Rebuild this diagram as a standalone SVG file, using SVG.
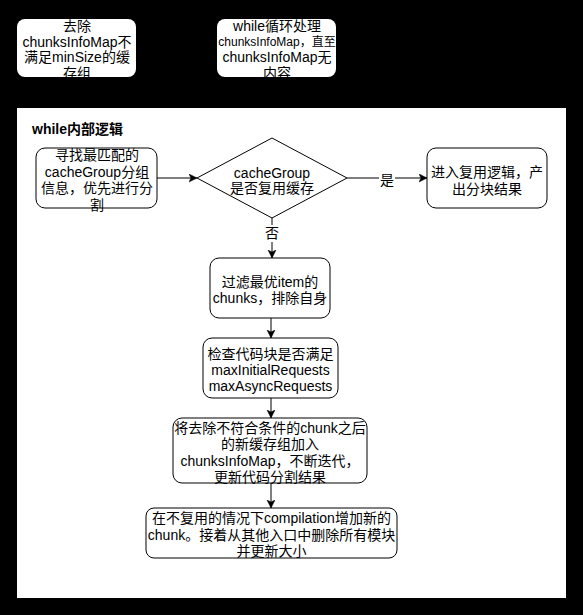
<svg xmlns="http://www.w3.org/2000/svg" width="583" height="615" viewBox="0 0 583 615">
<style>
  text { font-family: "Liberation Sans", "Noto Sans CJK SC", sans-serif; font-size: 14px; fill: #000; text-anchor: middle; }
  .box { fill: #fff; stroke: #000; stroke-width: 1; }
  .top { fill: #fff; stroke: none; }
  .edge { fill: none; stroke: #000; stroke-width: 1; marker-end: url(#arr); }
  .title { font-weight: bold; text-anchor: start; }
  .small { font-size: 12px; }
</style>
<defs>
  <marker id="arr" markerUnits="userSpaceOnUse" markerWidth="10" markerHeight="10" refX="8" refY="4" orient="auto">
    <path d="M0,0 L8,4 L0,8 L2,4 z" fill="#000" stroke="#000" stroke-width="0.5"/>
  </marker>
</defs>
<rect x="0" y="0" width="583" height="615" fill="#000"/>

<g id="top-remove">
  <rect class="top" x="17" y="19" width="119" height="58" rx="8"/>
  <text x="77" y="31">去除</text>
  <text x="77" y="47">chunksInfoMap不</text>
  <text x="77" y="62">满足minSize的缓</text>
  <text x="77" y="78">存组</text>
</g>

<g id="top-while">
  <rect class="top" x="217" y="19" width="119" height="58" rx="8"/>
  <text x="277" y="31">while循环处理</text>
  <text class="small" x="277" y="46">chunksInfoMap，直至</text>
  <text x="277" y="62">chunksInfoMap无</text>
  <text x="277" y="78">内容</text>
</g>

<g id="panel">
  <rect x="17" y="108" width="549" height="490" fill="#fff"/>
  <text class="title" x="32" y="134">while内部逻辑</text>
</g>

<g id="connectors">
  <line class="edge" x1="157" y1="178" x2="197" y2="178"/>
  <line class="edge" x1="347" y1="178" x2="427" y2="178"/>
  <rect x="379" y="170" width="16" height="17" fill="#fff"/>
  <text x="387" y="185">是</text>
  <line class="edge" x1="272" y1="218" x2="272" y2="258"/>
  <rect x="264" y="225" width="16" height="17" fill="#fff"/>
  <text x="272" y="238">否</text>
  <line class="edge" x1="271" y1="318" x2="271" y2="338"/>
  <line class="edge" x1="271" y1="398" x2="271" y2="418"/>
  <line class="edge" x1="271" y1="483" x2="271" y2="508"/>
</g>

<g id="find-best">
  <rect class="box" x="36" y="148" width="121" height="60" rx="9"/>
  <text x="97" y="160">寻找最匹配的</text>
  <text x="97" y="176.5">cacheGroup分组</text>
  <text x="97" y="193">信息，优先进行分</text>
  <text x="97" y="209.5">割</text>
</g>

<g id="decision">
  <polygon class="box" points="272,138 347,178 272,218 197,178"/>
  <text x="272" y="178">cacheGroup</text>
  <text x="272" y="193">是否复用缓存</text>
</g>

<g id="reuse">
  <rect class="box" x="427" y="148" width="120" height="60" rx="9"/>
  <text x="487" y="177">进入复用逻辑，产</text>
  <text x="487" y="194">出分块结果</text>
</g>

<g id="filter">
  <rect class="box" x="210" y="258" width="120" height="60" rx="9"/>
  <text x="270" y="287">过滤最优item的</text>
  <text x="270" y="303">chunks，排除自身</text>
</g>

<g id="check">
  <rect class="box" x="203" y="338" width="135" height="60" rx="9"/>
  <text x="270.5" y="359">检查代码块是否满足</text>
  <text x="270.5" y="375">maxInitialRequests</text>
  <text x="270.5" y="391">maxAsyncRequests</text>
</g>

<g id="merge">
  <rect class="box" x="173" y="418" width="194" height="65" rx="9"/>
  <text x="270" y="433">将去除不符合条件的chunk之后</text>
  <text x="270" y="449">的新缓存组加入</text>
  <text x="270" y="466">chunksInfoMap，不断迭代，</text>
  <text x="270" y="482">更新代码分割结果</text>
</g>

<g id="newchunk">
  <rect class="box" x="146" y="508" width="251" height="50" rx="8"/>
  <text x="271.5" y="523">在不复用的情况下compilation增加新的</text>
  <text x="271.5" y="540">chunk。接着从其他入口中删除所有模块</text>
  <text x="271.5" y="556">并更新大小</text>
</g>
</svg>
